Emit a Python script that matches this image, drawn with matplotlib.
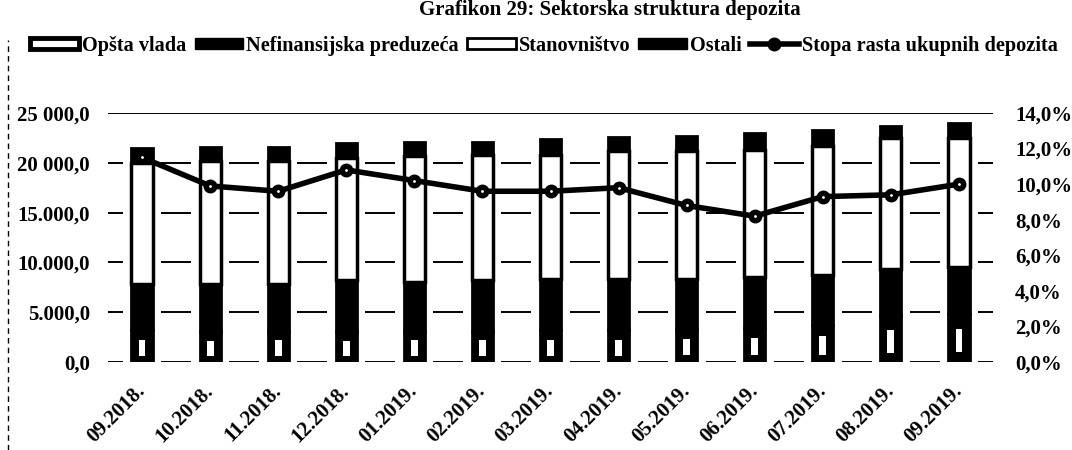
import matplotlib.pyplot as plt
from matplotlib.patches import Patch
from matplotlib.lines import Line2D

months = ["09.2018.", "10.2018.", "11.2018.", "12.2018.", "01.2019.", "02.2019.", "03.2019.",
          "04.2019.", "05.2019.", "06.2019.", "07.2019.", "08.2019.", "09.2019."]
opsta_vlada = [3200, 3000, 3100, 3000, 3100, 3100, 3200, 3200, 3300, 3400, 3700, 4600, 4800]
nefinansijska = [4600, 4800, 4700, 5200, 4900, 5100, 5100, 5100, 5000, 5100, 5000, 4700, 4700]
stanovnistvo = [12200, 12400, 12400, 12300, 12700, 12600, 12500, 12900, 12900, 12800, 13000, 13200, 13000]
ostali = [1500, 1400, 1400, 1500, 1400, 1300, 1600, 1400, 1500, 1700, 1600, 1200, 1500]
stopa_rasta = [11.5, 9.9, 9.6, 10.8, 10.2, 9.6, 9.6, 9.8, 8.8, 8.2, 9.3, 9.4, 10.0]

left_ticks = [0, 5000, 10000, 15000, 20000, 25000]
left_labels = ["0,0", "5.000,0", "10.000,0", "15.000,0", "20 000,0", "25 000,0"]
right_ticks = [0, 2, 4, 6, 8, 10, 12, 14]

plt.rcParams["font.family"] = ["Liberation Serif", "DejaVu Serif"]
plt.rcParams["font.weight"] = "bold"

fig = plt.figure(figsize=(10.72, 4.5), dpi=100)
ax = fig.add_axes([108 / 1072, 1 - 362 / 450, 885 / 1072, 249 / 450])

x = list(range(len(months)))
b1 = opsta_vlada
b2 = [a + b for a, b in zip(b1, nefinansijska)]
b3 = [a + b for a, b in zip(b2, stanovnistvo)]
total = [a + b for a, b in zip(b3, ostali)]

for y in left_ticks:
    ax.axhline(y, color="black", lw=1.4, zorder=0.5)

# white gap around each column, breaks the gridlines like in the original
ax.bar(x, total, width=0.56, color="white", zorder=1)

w = 0.31
# Opšta vlada: white segment with a heavy black outline -> mostly black in the scan
ax.bar(x, opsta_vlada, width=w, color="black", edgecolor="black", lw=2, zorder=2)
ax.bar(x, [v * 0.5 for v in opsta_vlada], width=0.1,
       bottom=[v * 0.2 for v in opsta_vlada], color="white", zorder=2.5)
ax.bar(x, nefinansijska, width=w, bottom=b1, color="black", edgecolor="black", lw=2, zorder=2)
ax.bar(x, stanovnistvo, width=w, bottom=b2, color="white", edgecolor="black", lw=2.5, zorder=2)
ax.bar(x, ostali, width=w, bottom=b3, color="black", edgecolor="black", lw=2, zorder=2)

ax.set_xlim(-0.5, len(months) - 0.5)
ax.set_ylim(0, 25000)
ax.set_yticks(left_ticks)
ax.set_yticklabels(left_labels, fontsize=15)
ax.set_xticks(x)
ax.set_xticklabels(months, fontsize=15, rotation=45, ha="right", va="center",
                   rotation_mode="anchor")
ax.tick_params(axis="y", length=0, pad=13)
ax.tick_params(axis="x", length=0, pad=19)
for s in ax.spines.values():
    s.set_visible(False)

ax2 = ax.twinx()
ax2.plot(x, stopa_rasta, color="black", lw=4, marker="o", ms=9, zorder=5)
ax2.plot(x, stopa_rasta, ls="none", marker=".", ms=2, color="white", zorder=6)
ax2.set_ylim(0, 14)
ax2.set_yticks(right_ticks)
ax2.set_yticklabels([f"{v:.1f}%".replace(".", ",") for v in right_ticks], fontsize=15)
ax2.tick_params(axis="y", length=0, pad=16)
for s in ax2.spines.values():
    s.set_visible(False)

fig.text(0.569, 0.999, "Grafikon 29: Sektorska struktura depozita", ha="center", va="top",
         fontsize=15, weight="bold")

handles = [
    Patch(facecolor="white", edgecolor="black", lw=3.5),
    Patch(facecolor="black", edgecolor="black"),
    Patch(facecolor="white", edgecolor="black", lw=2),
    Patch(facecolor="black", edgecolor="black"),
    Line2D([], [], color="black", lw=4, marker="o", ms=9),
]
labels = ["Opšta vlada", "Nefinansijska preduzeća", "Stanovništvo", "Ostali",
          "Stopa rasta ukupnih depozita"]
fig.legend(handles, labels, loc="center", bbox_to_anchor=(544 / 1072, 0.898), ncol=5,
           frameon=False, handlelength=2.4, handleheight=0.5, handletextpad=0.15,
           columnspacing=0.4, prop={"size": 14.6, "weight": "bold"})

fig.add_artist(Line2D([8 / 1072, 8 / 1072], [0, 1 - 40 / 450], transform=fig.transFigure,
                      color="black", lw=1, ls=(0, (4, 3))))

fig.savefig("out.png", dpi=100)
